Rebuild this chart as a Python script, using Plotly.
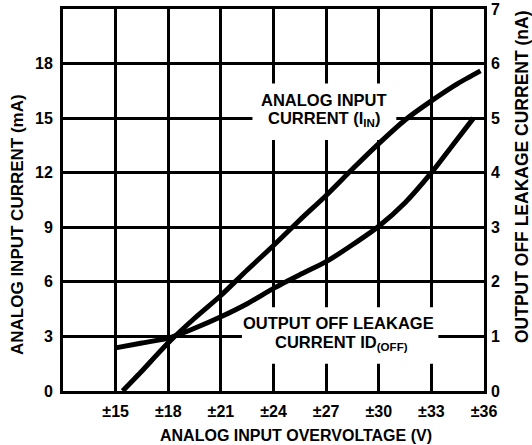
import plotly.graph_objects as go

# ---- data ----
volts_iin = [15.4, 16.5, 18.0, 19.5, 21.0, 22.5, 24.0, 25.5, 27.0, 28.5, 30.0, 31.5, 33.0, 34.5, 35.8]
iin_ma = [0.0, 1.1, 2.65, 4.0, 5.25, 6.65, 8.0, 9.4, 10.75, 12.2, 13.6, 14.9, 15.95, 16.9, 17.6]

volts_idoff = [15.0, 16.5, 18.0, 19.5, 21.0, 22.5, 24.0, 25.5, 27.0, 28.5, 30.0, 31.5, 33.0, 34.2, 35.4]
idoff_na = [0.79, 0.88, 0.97, 1.15, 1.36, 1.6, 1.88, 2.13, 2.37, 2.68, 3.02, 3.45, 4.0, 4.5, 5.0]

x_tickvals = [15, 18, 21, 24, 27, 30, 33, 36]
x_ticktext = ["±15", "±18", "±21", "±24", "±27", "±30", "±33", "±36"]
y_left_ticks = [0, 3, 6, 9, 12, 15, 18]
y_right_ticks = [0, 1, 2, 3, 4, 5, 6, 7]

FONT = "Liberation Sans"
tickfont = dict(family=FONT, size=16, color="black", weight="bold")

fig = go.Figure()
fig.add_trace(go.Scatter(x=volts_iin, y=iin_ma, mode="lines",
                         line=dict(color="black", width=5, shape="spline", smoothing=0.6),
                         showlegend=False))
fig.add_trace(go.Scatter(x=volts_idoff, y=idoff_na, mode="lines", yaxis="y2",
                         line=dict(color="black", width=5, shape="spline", smoothing=0.6),
                         showlegend=False))

# white boxes behind the curve labels (break the grid)
fig.add_shape(type="rect", xref="x", yref="y", x0=22.8, x1=31.0, y0=13.8, y1=16.9,
              fillcolor="white", line=dict(width=0), layer="between")
fig.add_shape(type="rect", xref="x", yref="y", x0=22.2, x1=33.4, y0=1.5, y1=4.6,
              fillcolor="white", line=dict(width=0), layer="between")

lab = dict(family=FONT, size=16.5, color="black", weight="bold")
for txt, xv, yv in [("ANALOG INPUT", 26.88, 15.99), ("CURRENT (I<sub>IN</sub>)", 26.88, 14.95),
                    ("OUTPUT OFF LEAKAGE", 27.68, 3.74), ("CURRENT ID<sub>(OFF)</sub>", 27.85, 2.65)]:
    fig.add_annotation(x=xv, y=yv, xref="x", yref="y", text=txt, showarrow=False,
                       font=lab, xanchor="center", yanchor="middle")

fig.add_annotation(x=(18 - 63) / 421, y=(391 - 225) / 382, xref="paper", yref="paper",
                   text="ANALOG INPUT CURRENT (mA)", textangle=-90, showarrow=False,
                   font=dict(family=FONT, size=17, color="black", weight="bold"),
                   xanchor="center", yanchor="middle")
fig.add_annotation(x=(522 - 63) / 421, y=(391 - 177) / 382, xref="paper", yref="paper",
                   text="OUTPUT OFF LEAKAGE CURRENT (nA)", textangle=-90, showarrow=False,
                   font=dict(family=FONT, size=17.5, color="black", weight="bold"),
                   xanchor="center", yanchor="middle")
fig.add_annotation(x=(296 - 63) / 421, y=(391 - 435) / 382, xref="paper", yref="paper",
                   text="ANALOG INPUT OVERVOLTAGE (V)", showarrow=False,
                   font=dict(family=FONT, size=16, color="black", weight="bold"),
                   xanchor="center", yanchor="middle")

fig.update_layout(
    template="none",
    width=532, height=445,
    margin=dict(l=63, r=48, t=9, b=54, autoexpand=False),
    paper_bgcolor="white", plot_bgcolor="white",
    xaxis=dict(range=[12, 36], tickvals=x_tickvals, ticktext=x_ticktext, automargin=False,
               showgrid=True, gridcolor="black", gridwidth=3, zeroline=False,
               showline=True, linecolor="black", linewidth=3, mirror=True,
               ticks="", ticklabelstandoff=4, tickfont=tickfont),
    yaxis=dict(range=[0, 21], tickvals=y_left_ticks, automargin=False,
               showgrid=True, gridcolor="black", gridwidth=3, zeroline=False,
               showline=True, linecolor="black", linewidth=3, mirror=True,
               ticks="", ticklabelstandoff=4, tickfont=tickfont),
    yaxis2=dict(range=[0, 7], tickvals=y_right_ticks, overlaying="y", side="right", automargin=False,
                showgrid=False, zeroline=False, showline=False,
                ticks="", ticklabelstandoff=6, tickfont=tickfont),
)

fig.write_html("out.html", config={"displayModeBar": False},
               post_script="document.body.style.margin='0';")
